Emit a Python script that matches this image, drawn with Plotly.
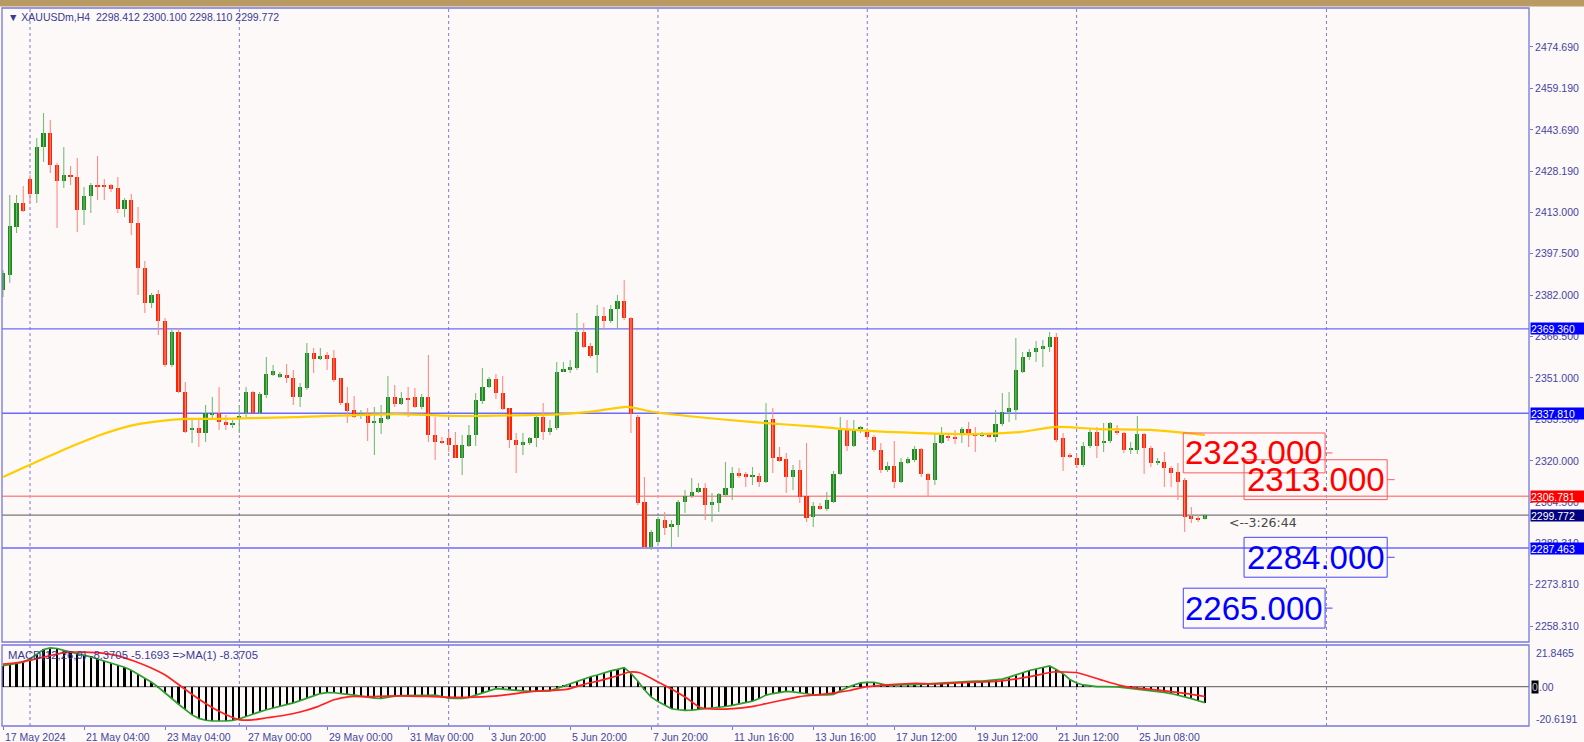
import plotly.graph_objects as go

# ---------------- data ----------------
OPEN = [2383.88, 2389.48, 2407.42, 2416.39, 2425.36, 2419.75, 2437.32, 2442.55, 2430.59, 2424.61,
        2426.85, 2426.11, 2413.77, 2419.01, 2423.12, 2422.74, 2423.12, 2422.00, 2414.15, 2417.51,
        2408.92, 2392.10, 2379.02, 2382.38, 2372.29, 2355.85, 2368.18, 2345.76, 2331.56, 2332.31,
        2330.44, 2337.16, 2337.91, 2334.55, 2333.80, 2335.67, 2337.91, 2345.76, 2337.91, 2344.64,
        2352.11, 2351.37, 2352.11, 2350.99, 2343.89, 2347.26, 2360.33, 2358.09, 2359.59, 2358.47,
        2350.99, 2341.65, 2339.03, 2337.16, 2337.91, 2334.18, 2334.18, 2335.67, 2343.89, 2341.28,
        2343.52, 2343.89, 2340.15, 2343.89, 2329.69, 2327.45, 2328.57, 2325.95, 2321.10, 2325.58,
        2329.69, 2342.40, 2347.63, 2350.62, 2345.39, 2339.78, 2327.82, 2325.95, 2326.70, 2328.57,
        2336.42, 2330.81, 2332.31, 2353.23, 2353.98, 2354.73, 2368.18, 2362.95, 2359.59, 2374.16,
        2372.29, 2376.78, 2379.77, 2373.41, 2336.42, 2304.66, 2287.85, 2289.72, 2297.94, 2295.32,
        2296.07, 2304.66, 2306.90, 2308.39, 2309.89, 2303.54, 2304.29, 2307.27, 2309.89, 2315.49,
        2315.12, 2314.00, 2314.37, 2312.13, 2335.67, 2321.47, 2320.72, 2314.00, 2316.61, 2306.90,
        2299.06, 2303.17, 2302.05, 2304.66, 2315.12, 2331.56, 2325.58, 2331.93, 2330.81, 2328.94,
        2324.09, 2316.61, 2318.11, 2312.13, 2319.23, 2320.35, 2324.46, 2315.12, 2312.87, 2326.70,
        2329.32, 2328.94, 2329.69, 2331.93, 2329.69, 2329.69, 2330.06, 2328.94, 2333.80, 2338.29,
        2339.03, 2353.23, 2358.84, 2360.71, 2361.83, 2362.58, 2366.31, 2328.57, 2322.22, 2321.10,
        2318.48, 2325.58, 2330.81, 2326.70, 2327.45, 2331.19, 2330.44, 2324.09, 2324.09, 2330.06,
        2324.83, 2319.23, 2319.60, 2317.36, 2315.86, 2312.87, 2299.43, 2298.68, 2298.412]
HIGH = [2391.35, 2419.38, 2419.38, 2422.74, 2426.85, 2440.68, 2450.02, 2447.41, 2431.34, 2437.32,
        2430.22, 2433.21, 2422.37, 2423.86, 2433.95, 2425.36, 2423.49, 2426.11, 2418.26, 2419.75,
        2414.89, 2394.71, 2382.76, 2383.88, 2373.41, 2368.93, 2369.68, 2349.50, 2335.30, 2335.30,
        2340.90, 2343.89, 2347.63, 2337.16, 2335.30, 2340.90, 2347.63, 2346.13, 2345.76, 2358.84,
        2355.85, 2353.23, 2356.22, 2353.98, 2349.12, 2364.07, 2362.20, 2362.20, 2360.71, 2361.46,
        2350.99, 2347.63, 2344.27, 2339.03, 2339.78, 2340.15, 2340.90, 2351.74, 2348.38, 2345.76,
        2347.63, 2347.26, 2345.01, 2359.59, 2336.42, 2328.94, 2330.81, 2330.81, 2329.69, 2333.43,
        2345.39, 2354.73, 2351.37, 2352.49, 2351.74, 2339.78, 2330.44, 2330.44, 2328.94, 2337.16,
        2341.65, 2335.30, 2356.97, 2356.97, 2357.72, 2375.28, 2371.55, 2364.07, 2378.27, 2377.52,
        2378.27, 2382.01, 2387.61, 2373.79, 2337.16, 2314.00, 2294.20, 2299.06, 2300.93, 2297.94,
        2305.41, 2309.14, 2313.62, 2311.75, 2311.75, 2308.02, 2308.02, 2319.60, 2317.73, 2317.36,
        2315.86, 2317.73, 2315.49, 2341.65, 2339.78, 2325.21, 2322.96, 2318.48, 2320.35, 2326.70,
        2304.66, 2304.29, 2308.39, 2316.24, 2336.42, 2335.30, 2335.30, 2333.05, 2332.31, 2329.69,
        2326.70, 2319.60, 2327.45, 2321.10, 2321.47, 2325.58, 2324.83, 2315.49, 2330.44, 2332.68,
        2330.44, 2331.56, 2332.68, 2334.55, 2332.68, 2330.81, 2330.44, 2339.03, 2345.39, 2345.76,
        2365.94, 2360.71, 2361.83, 2364.82, 2365.19, 2368.18, 2367.81, 2330.44, 2322.96, 2322.22,
        2327.08, 2332.31, 2332.68, 2334.18, 2334.55, 2333.43, 2330.81, 2327.08, 2336.79, 2330.44,
        2325.58, 2321.10, 2323.34, 2318.11, 2319.23, 2313.62, 2302.79, 2299.80, 2300.100]
LOW = [2381.26, 2386.49, 2405.18, 2413.03, 2416.39, 2416.39, 2431.71, 2427.60, 2407.05, 2422.00,
       2423.12, 2405.55, 2408.17, 2412.65, 2417.51, 2417.51, 2420.50, 2412.65, 2411.16, 2404.43,
       2382.01, 2375.28, 2377.15, 2367.06, 2355.10, 2355.10, 2345.39, 2330.44, 2326.70, 2325.21,
       2327.08, 2335.30, 2331.56, 2331.56, 2332.31, 2330.44, 2336.42, 2337.91, 2337.54, 2343.52,
       2351.74, 2350.99, 2349.12, 2340.90, 2340.15, 2346.51, 2352.86, 2357.72, 2353.98, 2349.50,
       2340.90, 2334.18, 2336.04, 2335.67, 2327.45, 2322.22, 2330.06, 2335.30, 2340.15, 2340.90,
       2336.42, 2339.78, 2339.41, 2327.08, 2320.35, 2326.33, 2323.34, 2321.10, 2314.74, 2325.21,
       2325.58, 2341.28, 2347.26, 2343.14, 2339.03, 2324.83, 2315.49, 2322.22, 2325.95, 2325.21,
       2327.82, 2329.69, 2331.56, 2353.23, 2352.86, 2353.98, 2362.20, 2358.47, 2352.86, 2368.93,
       2371.55, 2369.30, 2372.67, 2330.44, 2303.54, 2287.10, 2286.73, 2289.34, 2292.33, 2287.47,
       2291.58, 2300.55, 2306.15, 2308.02, 2297.94, 2297.19, 2300.93, 2306.52, 2305.41, 2313.62,
       2310.26, 2311.01, 2310.26, 2311.75, 2315.49, 2319.60, 2308.02, 2309.14, 2304.29, 2297.19,
       2295.32, 2301.68, 2301.30, 2304.29, 2314.74, 2323.71, 2325.21, 2330.44, 2327.82, 2323.34,
       2315.49, 2315.86, 2309.89, 2311.75, 2318.85, 2319.60, 2314.00, 2306.52, 2311.01, 2326.33,
       2327.45, 2326.33, 2326.70, 2325.21, 2323.34, 2328.94, 2328.57, 2327.08, 2333.05, 2334.55,
       2335.30, 2352.86, 2357.72, 2356.97, 2355.10, 2360.71, 2327.08, 2316.24, 2321.10, 2317.36,
       2317.73, 2324.83, 2321.10, 2323.34, 2326.70, 2329.69, 2322.96, 2322.59, 2322.59, 2315.12,
       2317.73, 2318.48, 2310.26, 2310.26, 2305.41, 2293.45, 2296.82, 2297.19, 2298.110]
CLOSE = [2390.23, 2407.79, 2416.39, 2413.40, 2419.75, 2437.32, 2442.55, 2430.59, 2424.61, 2426.85,
         2426.11, 2413.77, 2419.01, 2423.12, 2422.74, 2422.56, 2421.62, 2414.15, 2417.51, 2408.92,
         2392.10, 2379.02, 2382.01, 2372.29, 2355.85, 2368.18, 2345.76, 2330.81, 2332.31, 2330.44,
         2337.91, 2337.91, 2334.55, 2333.43, 2334.18, 2336.79, 2345.76, 2337.91, 2345.01, 2352.49,
         2353.61, 2352.49, 2350.99, 2343.89, 2347.63, 2360.33, 2358.09, 2359.21, 2358.09, 2350.24,
         2341.65, 2338.66, 2336.42, 2337.91, 2334.18, 2334.36, 2336.04, 2343.89, 2341.28, 2343.52,
         2343.14, 2340.15, 2343.89, 2329.69, 2327.08, 2326.70, 2325.95, 2321.10, 2325.95, 2329.69,
         2342.77, 2347.63, 2350.62, 2345.39, 2339.41, 2327.82, 2325.95, 2327.08, 2328.57, 2336.42,
         2330.81, 2332.31, 2353.23, 2354.36, 2355.10, 2368.18, 2362.58, 2359.21, 2374.16, 2372.29,
         2376.78, 2379.77, 2373.41, 2337.54, 2304.29, 2287.85, 2293.45, 2298.31, 2294.95, 2296.44,
         2304.66, 2306.90, 2308.39, 2309.89, 2303.54, 2304.66, 2307.64, 2309.89, 2315.49, 2314.37,
         2314.00, 2314.37, 2312.13, 2335.30, 2321.10, 2319.97, 2314.00, 2316.61, 2306.52, 2298.68,
         2303.17, 2302.05, 2305.41, 2315.12, 2331.56, 2325.58, 2331.56, 2332.68, 2328.94, 2324.09,
         2316.61, 2318.11, 2312.13, 2319.60, 2320.72, 2324.46, 2315.12, 2312.87, 2326.70, 2329.69,
         2328.57, 2328.20, 2331.93, 2329.69, 2329.32, 2330.06, 2328.94, 2333.80, 2338.29, 2339.78,
         2353.98, 2358.84, 2360.71, 2362.20, 2362.95, 2366.31, 2327.82, 2321.47, 2321.47, 2318.48,
         2325.58, 2330.81, 2325.58, 2327.45, 2334.18, 2330.44, 2324.09, 2324.83, 2330.06, 2324.83,
         2319.23, 2319.60, 2317.36, 2315.49, 2312.13, 2299.06, 2298.31, 2297.94, 2299.772]

MACD_MAIN = [11.0, 11.5, 12.2, 13.0, 14.5, 17.0, 19.5, 20.3, 20.0, 19.0,
             18.2, 17.3, 16.6, 15.6, 14.5, 13.4, 12.5, 11.6, 10.2, 8.6,
             6.5, 4.5, 2.3, -0.3, -3.5, -6.2, -9.2, -12.0, -14.8, -16.6,
             -17.6, -18.0, -18.1, -18.0, -17.7, -16.9, -15.6, -14.2, -13.2, -12.1,
             -11.3, -10.3, -9.4, -8.5, -7.3, -5.9, -4.8, -3.6, -3.1, -3.2,
             -3.5, -4.0, -4.4, -5.0, -5.7, -6.0, -6.1, -5.5, -5.0, -4.7,
             -4.7, -4.8, -4.7, -4.5, -4.4, -5.3, -6.0, -6.2, -6.1, -5.6,
             -4.5, -3.4, -2.2, -1.0, -1.3, -1.7, -2.0, -2.2, -2.4, -2.5,
             -2.4, -2.2, -0.9, 0.4, 1.6, 3.0, 4.2, 5.2, 6.1, 7.3,
             8.3, 9.1, 10.0, 7.0, 3.0, -1.6, -5.5, -7.8, -9.8, -11.6,
             -12.1, -12.4, -12.3, -11.9, -11.7, -11.4, -11.0, -10.4, -9.8, -9.0,
             -8.2, -7.6, -6.2, -4.4, -3.6, -2.9, -2.5, -2.7, -3.1, -3.7,
             -4.3, -4.4, -4.3, -4.0, -2.2, -0.5, 0.9, 2.0, 2.2, 2.3,
             1.5, 0.7, 0.8, 1.1, 1.1, 1.1, 1.3, 1.6, 1.8, 2.0,
             2.2, 2.4, 2.7, 2.9, 2.9, 2.9, 3.2, 3.5, 4.0, 5.0,
             6.0, 7.3, 8.5, 9.4, 10.1, 10.9, 9.0, 6.8, 3.8, 1.9,
             0.9, 0.4, 0.0, 0.0, 0.0, -0.1, -0.5, -0.9, -1.2, -1.5,
             -2.0, -2.5, -3.0, -3.6, -4.4, -5.3, -6.3, -7.4, -8.3705]

SIG_IDX = [0, 2.5, 7, 9.5, 12, 14.4, 16.9, 19.3, 21.8, 24.3,
           26.7, 29.2, 31.7, 34.1, 35.1, 37, 39.1, 41.5, 44, 46.5,
           48.9, 51.4, 53.9, 58.8, 63.7, 68.7, 73.2, 78.5, 83.5, 85.9,
           88.4, 90.9, 92.8, 94.3, 96.8, 99.2, 101.3, 103.2, 105.7, 108.1,
           110.6, 113.1, 115.5, 118, 120.5, 122.9, 125.4, 127.9, 130.3, 132.8,
           135.3, 137.7, 142.7, 147.6, 152.5, 155.5, 159.1, 162.4, 165.4, 167.3,
           169.9, 172.4, 175.3, 178]
SIG_VAL = [11.8, 12.7, 16.3, 18.1, 18.1, 17.7, 16.3, 13.6, 10.0, 5.5,
           -0.7, -7.0, -12.4, -16.3, -17.4, -17.4, -16.3, -15.1, -13.3, -10.6,
           -7.0, -5.2, -5.2, -4.8, -5.2, -5.6, -4.8, -2.5, -1.4, 1.1,
           3.2, 5.6, 7.7, 7.3, 2.9, -1.6, -6.1, -10.9, -11.8, -11.5,
           -10.6, -8.8, -7.0, -5.2, -4.3, -3.4, -2.0, 0.0, 0.7, 1.4,
           1.8, 1.4, 2.2, 2.9, 5.5, 7.7, 7.3, 3.8, 0.7, -0.5,
           -1.4, -2.3, -3.6, -5.1693]

MA_IDX = [0, 8.9, 14.4, 19.3, 23.2, 27.2, 31.7, 36.6, 43.5, 58.3, 68.1, 82.9, 88,
          92.4, 96.3, 101.3, 111.1, 121, 125.9, 135.8, 145.7, 150.6, 156.1, 162.4, 169.9, 178]
MA_VAL = [2314.0, 2324.1, 2329.7, 2333.4, 2334.9, 2335.7, 2335.7, 2336.0, 2336.4, 2337.5, 2336.8,
          2337.5, 2338.7, 2340.2, 2338.3, 2336.8, 2334.5, 2332.7, 2331.6, 2330.4, 2330.1, 2330.8,
          2332.7, 2331.9, 2331.6, 2329.7]

DATE_IDX = [0, 12, 24, 36, 48, 60, 72, 84, 96, 108, 120, 132, 144, 156, 168]
DATE_TEXT = ["17 May 2024", "21 May 04:00", "23 May 04:00", "27 May 00:00", "29 May 00:00",
             "31 May 00:00", "3 Jun 20:00", "5 Jun 20:00", "7 Jun 20:00", "11 Jun 16:00",
             "13 Jun 16:00", "17 Jun 12:00", "19 Jun 12:00", "21 Jun 12:00", "25 Jun 08:00"]
GRID_IDX = [4, 35, 66, 97, 128, 159, 196]

PRICE_TICKS = [2474.69, 2459.19, 2443.69, 2428.19, 2413.00, 2397.50, 2382.00, 2366.50,
               2351.00, 2335.50, 2320.00, 2304.50, 2289.31, 2273.81, 2258.31]
BLUE_LEVELS = [2369.36, 2337.81, 2287.463]
RED_LEVEL = 2306.781
LAST_PRICE = 2299.772
HEADER = "\u25BC XAUUSDm,H4  2298.412 2300.100 2298.110 2299.772"
MACD_HEADER = "MACD(12,26,9) -8.3705 -5.1693 =>MA(1) -8.3705"
MACD_MAX, MACD_MIN = 21.8465, -20.6191
TIMER_TEXT = "<--3:26:44"

TARGET_PRICE = [2323.0, 2313.0, 2284.0, 2265.0]
TARGET_KIND = ["red", "red", "blue", "blue"]

# ---------------- layout helpers ----------------
W, H = 1584, 742
ML, MR, MT, MB = 2, 55, 8, 16
PW, PH = W - ML - MR, H - MT - MB


def fx(px):
    return (px - ML) / PW


def fy(py):
    return (H - MB - py) / PH


X_RANGE = [-0.15, 226.0]
Y_MAIN = [2252.34, 2489.26]
BG = "#FDF9F8"
AX = "#4545A0"
FRAME = "#7777D6"
FONT = "Liberation Sans, Arial, sans-serif"
GREEN, RED = "#1E8A1E", "#FF2400"
GREEN_W, RED_W = "#78BC78", "#FF8C84"

n = len(OPEN)
idx = list(range(n))
is_up = [c >= o for o, c in zip(OPEN, CLOSE)]

fig = go.Figure()

# wicks
for flag, col in [(True, GREEN_W), (False, RED_W)]:
    xs, ys = [], []
    for i in idx:
        if is_up[i] == flag:
            xs += [i, i, None]
            ys += [LOW[i], HIGH[i], None]
    fig.add_trace(go.Scatter(x=xs, y=ys, mode="lines", line=dict(color=col, width=1.1),
                             hoverinfo="skip", showlegend=False, xaxis="x", yaxis="y"))

# bodies
fig.add_trace(go.Bar(
    x=idx,
    base=[min(o, c) for o, c in zip(OPEN, CLOSE)],
    y=[max(abs(c - o), 0.45) for o, c in zip(OPEN, CLOSE)],
    width=0.62,
    marker=dict(color=[GREEN if u else RED for u in is_up], line=dict(width=0)),
    showlegend=False, xaxis="x", yaxis="y"))

# moving average
fig.add_trace(go.Scatter(x=MA_IDX, y=MA_VAL, mode="lines",
                         line=dict(color="#FFCC00", width=2.2, shape="spline", smoothing=0.6),
                         showlegend=False, xaxis="x", yaxis="y"))

# MACD histogram + lines
fig.add_trace(go.Bar(x=idx, y=MACD_MAIN, width=0.32, marker=dict(color="#000000", line=dict(width=0)),
                     showlegend=False, xaxis="x", yaxis="y2"))
fig.add_trace(go.Scatter(x=idx, y=MACD_MAIN, mode="lines", line=dict(color="#2E9E2E", width=1.7),
                         showlegend=False, xaxis="x", yaxis="y2"))
fig.add_trace(go.Scatter(x=SIG_IDX, y=SIG_VAL, mode="lines",
                         line=dict(color="#FF2020", width=1.7, shape="spline", smoothing=0.5),
                         showlegend=False, xaxis="x", yaxis="y2"))

shapes = []
# top tan bar
shapes.append(dict(type="rect", xref="paper", yref="paper", x0=fx(0), x1=fx(W), y0=fy(6.5), y1=fy(0),
                   fillcolor="#B89A62", line=dict(width=0), layer="above"))
# dotted vertical grid
for g in GRID_IDX:
    shapes.append(dict(type="line", xref="x", yref="paper", x0=g, x1=g, y0=0, y1=1,
                       line=dict(color="#7A7AD6", width=1, dash="dot"), layer="below"))
# horizontal levels
for lv in BLUE_LEVELS:
    shapes.append(dict(type="line", xref="paper", yref="y", x0=0, x1=1, y0=lv, y1=lv,
                       line=dict(color="#6A6AFF", width=1.4), layer="below"))
shapes.append(dict(type="line", xref="paper", yref="y", x0=0, x1=1, y0=RED_LEVEL, y1=RED_LEVEL,
                   line=dict(color="#FF8C8C", width=1.4), layer="below"))
shapes.append(dict(type="line", xref="paper", yref="y", x0=0, x1=1, y0=LAST_PRICE, y1=LAST_PRICE,
                   line=dict(color="#777777", width=1.2), layer="below"))
# MACD zero line
shapes.append(dict(type="line", xref="paper", yref="y2", x0=0, x1=1, y0=0, y1=0,
                   line=dict(color="#777777", width=1.2), layer="below"))
# panel frames
shapes.append(dict(type="rect", xref="paper", yref="paper", x0=0, x1=1, y0=fy(642), y1=1,
                   line=dict(color=FRAME, width=1.3), layer="above"))
shapes.append(dict(type="rect", xref="paper", yref="paper", x0=0, x1=1, y0=0, y1=fy(645),
                   line=dict(color=FRAME, width=1.3), layer="above"))

annotations = []
# target label boxes
BOX_X = {"red": [(174.8, 195.8), (183.8, 205.0)], "blue": [(183.8, 205.0), (174.8, 195.8)]}
kind_count = {"red": 0, "blue": 0}
for p, k in zip(TARGET_PRICE, TARGET_KIND):
    x0, x1 = BOX_X[k][kind_count[k]]
    kind_count[k] += 1
    txt_col = "#FF0000" if k == "red" else "#0000FF"
    box_col = "#FF5C5C" if k == "red" else "#4444FF"
    shapes.append(dict(type="rect", xref="x", yref="y", x0=x0, x1=x1, y0=p - 7.45, y1=p + 7.45,
                       line=dict(color=box_col, width=1), layer="above"))
    shapes.append(dict(type="line", xref="x", yref="y", x0=x1, x1=x1 + 1.1, y0=p, y1=p,
                       line=dict(color=box_col, width=1), layer="above"))
    annotations.append(dict(x=(x0 + x1) / 2, y=p, xref="x", yref="y", text=f"{p:.3f}",
                            showarrow=False, xanchor="center", yanchor="middle",
                            font=dict(family=FONT, size=33, color=txt_col)))

# price boxes on the right axis
for p, bg in [(BLUE_LEVELS[0], "#0000FF"), (BLUE_LEVELS[1], "#0000FF"), (RED_LEVEL, "#FF0000"),
              (LAST_PRICE, "#000080"), (BLUE_LEVELS[2], "#0000FF")]:
    annotations.append(dict(x=1, y=p, xref="paper", yref="y", text=f"{p:.3f}", showarrow=False,
                            xanchor="left", yanchor="middle", xshift=1, bgcolor=bg, borderpad=0,
                            width=54, height=11, align="left",
                            font=dict(family=FONT, size=10.5, color="#FFFFFF")))

# date labels
for i, t in zip(DATE_IDX, DATE_TEXT):
    annotations.append(dict(x=i, y=fy(737), xref="x", yref="paper", text=t, showarrow=False,
                            xanchor="left", yanchor="middle", xshift=0,
                            font=dict(family=FONT, size=10.5, color=AX)))

# MACD axis labels
for v, py in [(MACD_MAX, 653), (MACD_MIN, 719)]:
    annotations.append(dict(x=1, y=fy(py), xref="paper", yref="paper", text=f"{v:.4f}",
                            showarrow=False, xanchor="left", yanchor="middle", xshift=5,
                            font=dict(family=FONT, size=10.5, color=AX)))
annotations.append(dict(x=1, y=0, xref="paper", yref="y2", text="0", showarrow=False,
                        xanchor="left", yanchor="middle", xshift=2, bgcolor="#000000", borderpad=0,
                        font=dict(family=FONT, size=10.5, color="#C8C8E8")))
annotations.append(dict(x=1, y=0, xref="paper", yref="y2", text=".00", showarrow=False,
                        xanchor="left", yanchor="middle", xshift=8,
                        font=dict(family=FONT, size=10.5, color=AX)))

# headers and timer
annotations.append(dict(x=fx(6), y=fy(17), xref="paper", yref="paper", text=HEADER, showarrow=False,
                        xanchor="left", yanchor="middle", font=dict(family=FONT, size=10.5, color="#3A3A96")))
annotations.append(dict(x=fx(6), y=fy(655), xref="paper", yref="paper", text=MACD_HEADER,
                        showarrow=False, xanchor="left", yanchor="middle",
                        font=dict(family=FONT, size=11.3, color="#3A3A96")))
annotations.append(dict(x=fx(1227), y=fy(522), xref="paper", yref="paper", text=TIMER_TEXT,
                        showarrow=False, xanchor="left", yanchor="middle",
                        font=dict(family="DejaVu Sans, sans-serif", size=12.5, color="#474747")))

fig.update_layout(
    width=W, height=H,
    margin=dict(l=ML, r=MR, t=MT, b=MB, pad=0),
    paper_bgcolor=BG, plot_bgcolor=BG,
    barmode="overlay", bargap=0,
    showlegend=False,
    font=dict(family=FONT, size=10.5, color=AX),
    xaxis=dict(domain=[0, 1], range=X_RANGE, anchor="y2", tickvals=DATE_IDX, ticks="outside",
               ticklen=3, tickcolor=FRAME, showticklabels=False, showgrid=False, zeroline=False,
               showline=False, fixedrange=True),
    yaxis=dict(domain=[fy(642), 1], range=Y_MAIN, side="right", anchor="x",
               tickvals=PRICE_TICKS, ticktext=[f"{v:.3f}" for v in PRICE_TICKS],
               ticks="outside", ticklen=3, tickcolor=FRAME,
               tickfont=dict(family=FONT, size=10.5, color=AX),
               showgrid=False, zeroline=False, showline=False, fixedrange=True),
    yaxis2=dict(domain=[0, fy(645)], range=[MACD_MIN, MACD_MAX], anchor="x", side="right",
                showticklabels=False, ticks="", showgrid=False, zeroline=False, showline=False,
                fixedrange=True),
    shapes=shapes,
    annotations=annotations,
)

fig.write_html("out.html", config={"displayModeBar": False},
               post_script="document.body.style.margin='0';document.body.style.overflow='hidden';")
